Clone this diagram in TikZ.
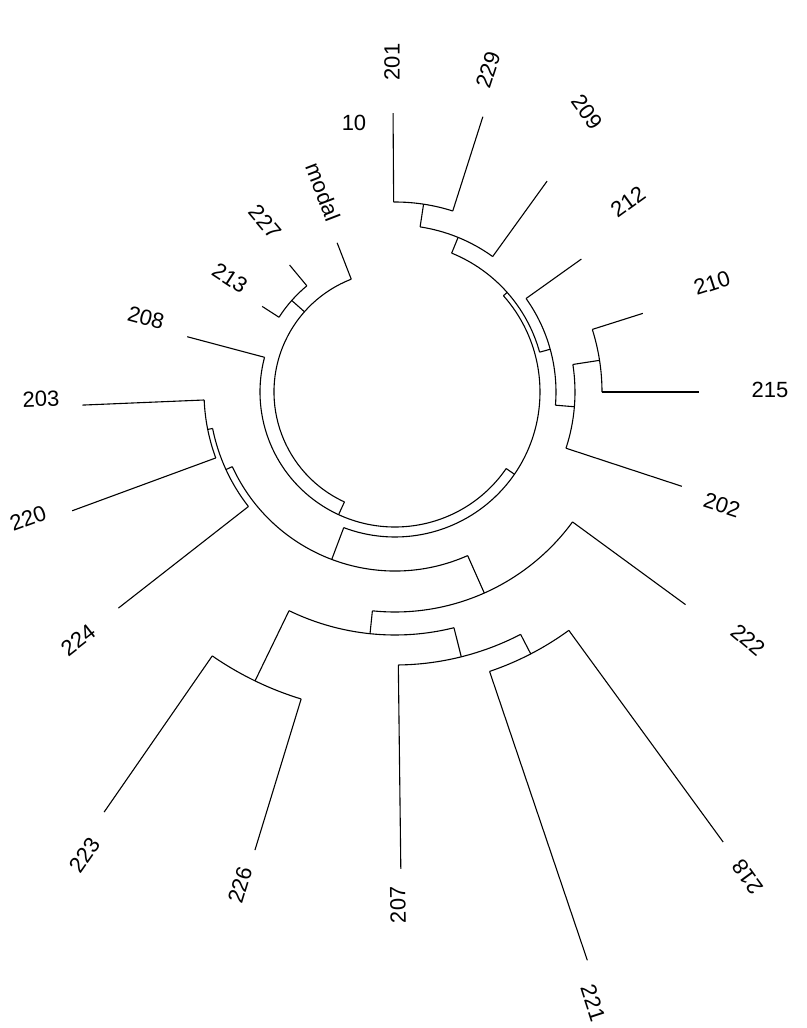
\documentclass[tikz,border=0pt]{standalone}
\usepackage{fontspec}
\setmainfont{Liberation Sans}
\usetikzlibrary{calc}

\begin{document}
\begin{tikzpicture}[x=1pt, y=1pt, line width=1.1pt,
        lbl/.style={font=\fontsize{22}{22}\selectfont, inner sep=0pt}]
            \useasboundingbox (-395,-636) rectangle (411,392);
            % root and left part
            \draw (-114.7:121) arc[start angle=-114.7, end angle=-248.8, radius=121pt];
            \draw (138.45:121) -- (138.45:138);
            \draw (147.2:138) arc[start angle=147.2, end angle=129.7, radius=138pt];
            \draw (-114.7:121) -- (-114.7:135);
            \draw (-34.55:135) arc[start angle=-34.55, end angle=-194.9, radius=135pt];
            \draw (-34.55:135) -- (-34.55:145);
            \draw (41.6:145) arc[start angle=41.6, end angle=-110.7, radius=145pt];
            % upper right part
            \draw (41.6:145) -- (41.6:150);
            \draw (67.8:150) arc[start angle=67.8, end angle=15.4, radius=150pt];
            \draw (67.8:150) -- (67.8:167);
            \draw (81.35:167) arc[start angle=81.35, end angle=54.2, radius=167pt];
            \draw (81.35:167) -- (81.35:190);
            \draw (90.4:190) arc[start angle=90.4, end angle=72.3, radius=190pt];
            \draw (15.4:150) -- (15.4:161);
            \draw (35.5:161) arc[start angle=35.5, end angle=-4.7, radius=161pt];
            \draw (-4.7:161) -- (-4.7:180);
            \draw (8.8:180) arc[start angle=8.8, end angle=-18.2, radius=180pt];
            \draw (8.8:180) -- (8.8:207);
            \draw (17.6:207) arc[start angle=17.6, end angle=0, radius=207pt];
            % lower part
            \draw (-110.7:145) -- (-110.7:179);
            \draw (-155.35:179) arc[start angle=-155.35, end angle=-66.05, radius=179pt];
            \draw (-155.35:179) -- (-155.35:186);
            \draw (-168.7:186) arc[start angle=-168.7, end angle=-142, radius=186pt];
            \draw (-168.7:186) -- (-168.7:191);
            \draw (-177.6:191) arc[start angle=-177.6, end angle=-159.8, radius=191pt];
            \draw (-66.05:179) -- (-66.05:220);
            \draw (-95.9:220) arc[start angle=-95.9, end angle=-36.2, radius=220pt];
            \draw (-95.9:220) -- (-95.9:243);
            \draw (-115.85:243) arc[start angle=-115.85, end angle=-75.95, radius=243pt];
            \draw (-115.85:243) -- (-115.85:321);
            \draw (-124.7:321) arc[start angle=-124.7, end angle=-107, radius=321pt];
            \draw (-75.95:243) -- (-75.95:273);
            \draw (-89.3:273) arc[start angle=-89.3, end angle=-62.6, radius=273pt];
            \draw (-62.6:273) -- (-62.6:295);
            \draw (-71.3:295) arc[start angle=-71.3, end angle=-53.9, radius=295pt];
            % leaves
            \draw (90.4:190) -- (90.4:279) coordinate (t201);
            \draw (72.3:190) -- (72.3:289) coordinate (t229);
            \draw (54.2:167) -- (54.2:260) coordinate (t209);
            \draw (35.5:161) -- (35.5:229) coordinate (t212);
            \draw (17.6:207) -- (17.6:260) coordinate (t210);
            \draw (0:207) -- (0:304) coordinate (t215);
            \draw (-18.2:180) -- (-18.2:302) coordinate (t202);
            \draw (-36.2:220) -- (-36.2:360) coordinate (t222);
            \draw (-53.9:295) -- (-53.9:557) coordinate (t218);
            \draw (-71.3:295) -- (-71.3:600) coordinate (t221);
            \draw (-89.3:273) -- (-89.3:477) coordinate (t207);
            \draw (-107:321) -- (-107:479) coordinate (t226);
            \draw (-124.7:321) -- (-124.7:511) coordinate (t223);
            \draw (-142:186) -- (-142:351) coordinate (t224);
            \draw (-159.8:191) -- (-159.8:344) coordinate (t220);
            \draw (-177.6:191) -- (-177.6:313) coordinate (t203);
            \draw (165.1:135) -- (165.1:215) coordinate (t208);
            \draw (147.2:138) -- (147.2:158) coordinate (t213);
            \draw (129.7:138) -- (129.7:165) coordinate (t227);
            \draw (111.2:121) -- (111.2:160) coordinate (tmodal);
            % labels
            \node[lbl, rotate=90] (l201) at (-3,330) {201};
            \node[lbl, rotate=72] (l229) at (93,322) {229};
            \node[lbl, rotate=-54] (l209) at (192,280) {209};
            \node[lbl, rotate=36] (l212) at (233,190) {212};
            \node[lbl, rotate=18] (l210) at (317,109) {210};
            \node[lbl] (l215) at (375,2) {215};
            \node[lbl, rotate=-18] (l202) at (327,-113) {202};
            \node[lbl, rotate=-40] (l222) at (353,-248) {222};
            \node[lbl, rotate=126] (l218) at (353,-485) {218};
            \node[lbl, rotate=-72] (l221) at (198,-611) {221};
            \node[lbl, rotate=91] (l207) at (3,-513) {207};
            \node[lbl, rotate=73] (l226) at (-155,-493) {226};
            \node[lbl, rotate=55] (l223) at (-310,-463) {223};
            \node[lbl, rotate=38] (l224) at (-317,-248) {224};
            \node[lbl, rotate=20] (l220) at (-367,-126) {220};
            \node[lbl, rotate=2] (l203) at (-354,-7) {203};
            \node[lbl, rotate=-15] (l208) at (-249,74) {208};
            \node[lbl, rotate=-33] (l213) at (-165,114) {213};
            \node[lbl, rotate=-50] (l227) at (-130,170) {227};
            \node[lbl, rotate=-69] (lmodal) at (-72,200) {modal};
            \node[lbl] (l10) at (-41,269) {10};
        \end{tikzpicture}
\end{document}
